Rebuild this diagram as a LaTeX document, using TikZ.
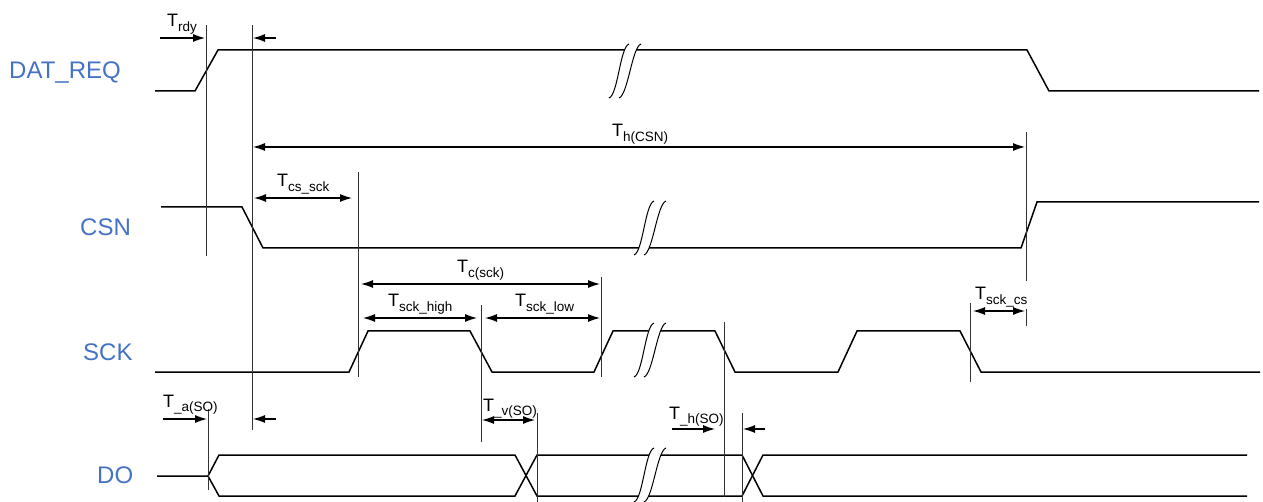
\documentclass[tikz,border=0pt]{standalone}
\usepackage{fontspec}
\setmainfont{Liberation Sans}
\usetikzlibrary{arrows.meta}
\definecolor{sigblue}{HTML}{4472C4}
\tikzset{
  sig/.style={line width=1.5pt, black, line join=miter},
  guide/.style={line width=1pt, black!80},
  dim/.style={line width=1.1pt, -{Latex[length=12pt,width=8pt]}},
  dimd/.style={line width=1.1pt, {Latex[length=12pt,width=8pt]}-{Latex[length=12pt,width=8pt]}},
  siglabel/.style={anchor=base west, inner sep=0pt, text=sigblue, font=\fontsize{24}{24}\selectfont},
  tlabel/.style={anchor=base west, inner sep=0pt, font=\fontsize{18}{18}\selectfont},
  brk/.pic={
    \fill[white] (-11,27) .. controls (-2,24) and (0,-24) .. (9,-27) -- (21,-27) .. controls (12,-24) and (8,24) .. (-1,27) -- cycle;
    \draw[line width=1pt] (-11,27) .. controls (-2,24) and (0,-24) .. (9,-27);
    \draw[line width=1pt] (-1,27) .. controls (8,24) and (12,-24) .. (21,-27);
  }
}
\newcommand\Tsub[1]{T\raisebox{-4.5pt}{\fontsize{13.5}{13.5}\selectfont #1}}
\begin{document}
\begin{tikzpicture}[x=1pt,y=-1pt]
\useasboundingbox (0,0) rectangle (1263,502);

% signal names
\node[siglabel] (lDAT) at (9,79) {DAT\_REQ};
\node[siglabel] (lCSN) at (80,236) {CSN};
\node[siglabel] (lSCK) at (83,360) {SCK};
\node[siglabel] (lDO) at (97,483) {DO};

% waveforms
\draw[sig] (155,91) -- (195,91) -- (218,50) -- (1027,50) -- (1049,91) -- (1259,91);
\draw[sig] (161,207) -- (242,207) -- (263,248) -- (1021,248) -- (1037,202) -- (1259,202);
\draw[sig] (155,372) -- (349,372) -- (368,331) -- (470,331) -- (492,372) -- (594,372) -- (613,331) -- (715,331) -- (735,372) -- (838,372) -- (857,331) -- (960,331) -- (981,372) -- (1260,372);
\draw[sig] (157,476) -- (208,476) -- (219,455) -- (515,455) -- (537,496) -- (742,496) -- (763,455) -- (1247,455);
\draw[sig] (208,476) -- (219,496) -- (515,496) -- (537,455) -- (742,455) -- (763,496) -- (1247,496);

% breaks
\pic at (620,71) {brk};
\pic at (645,228) {brk};
\pic at (645,350) {brk};
\pic at (645,475) {brk};

% guide lines
\coordinate (g1t) at (206,25);  \coordinate (g1b) at (206,256);
\coordinate (g2t) at (252,25);  \coordinate (g2b) at (252,430);
\coordinate (g3t) at (1026,132); \coordinate (g3b) at (1026,281);
\coordinate (g3u) at (1026,309); \coordinate (g3v) at (1026,326);
\coordinate (g4t) at (358,172); \coordinate (g4b) at (358,377);
\coordinate (g5t) at (601,277); \coordinate (g5b) at (601,377);
\coordinate (g6t) at (481,305); \coordinate (g6b) at (481,442);
\coordinate (g7t) at (724,322); \coordinate (g7b) at (724,497);
\coordinate (g8t) at (970,303); \coordinate (g8b) at (970,382);
\coordinate (g9t) at (208,409); \coordinate (g9b) at (208,490);
\coordinate (g10t) at (537,413); \coordinate (g10b) at (537,502);
\coordinate (g11t) at (742,413); \coordinate (g11b) at (742,502);
\foreach \g in {g1,g2,g4,g5,g6,g7,g8,g9,g10,g11}{\draw[guide] (\g t) -- (\g b);}
\draw[guide] (g3t) -- (g3b);
\draw[guide] (g3u) -- (g3v);

% dimension arrows
\coordinate (rdyS) at (160,38);  \coordinate (rdyE) at (205,38);
\coordinate (rdyR) at (276,38);  \coordinate (rdyL) at (253,38);
\draw[dim] (rdyS) -- (rdyE);
\draw[dim] (rdyR) -- (rdyL);
\coordinate (hcsS) at (253,147); \coordinate (hcsE) at (1025,147);
\draw[dimd] (hcsS) -- (hcsE);
\coordinate (cssS) at (254,198); \coordinate (cssE) at (352,198);
\draw[dimd] (cssS) -- (cssE);
\coordinate (tcS) at (361,284); \coordinate (tcE) at (600,284);
\draw[dimd] (tcS) -- (tcE);
\coordinate (hiS) at (363,318); \coordinate (hiE) at (477,318);
\draw[dimd] (hiS) -- (hiE);
\coordinate (loS) at (485,318); \coordinate (loE) at (600,318);
\draw[dimd] (loS) -- (loE);
\coordinate (scS) at (973,311); \coordinate (scE) at (1025,311);
\draw[dimd] (scS) -- (scE);
\coordinate (aS) at (163,419); \coordinate (aE) at (207,419);
\coordinate (aR) at (276,419); \coordinate (aL) at (253,419);
\draw[dim] (aS) -- (aE);
\draw[dim] (aR) -- (aL);
\coordinate (vS) at (482,420); \coordinate (vE) at (535,420);
\draw[dimd] (vS) -- (vE);
\coordinate (hS) at (672,429); \coordinate (hE) at (715,429);
\coordinate (hR) at (765,429); \coordinate (hL) at (743,429);
\draw[dim] (hS) -- (hE);
\draw[dim] (hR) -- (hL);

% timing labels
\node[tlabel] (tRdy) at (167,27) {\Tsub{rdy}};
\node[tlabel] (tHcsn) at (612,137) {\Tsub{h(CSN)}};
\node[tlabel] (tCssck) at (277,187) {\Tsub{cs\_sck}};
\node[tlabel] (tCsck) at (457,273) {\Tsub{c(sck)}};
\node[tlabel] (tHigh) at (388,307) {\Tsub{sck\_high}};
\node[tlabel] (tLow) at (515,307) {\Tsub{sck\_low}};
\node[tlabel] (tSckcs) at (975,300) {\Tsub{sck\_cs}};
\node[tlabel] (tA) at (163,407) {\Tsub{\_a(SO)}};
\node[tlabel] (tV) at (483,411) {\Tsub{\_v(SO)}};
\node[tlabel] (tH) at (669,419) {\Tsub{\_h(SO)}};
\end{tikzpicture}
\end{document}
